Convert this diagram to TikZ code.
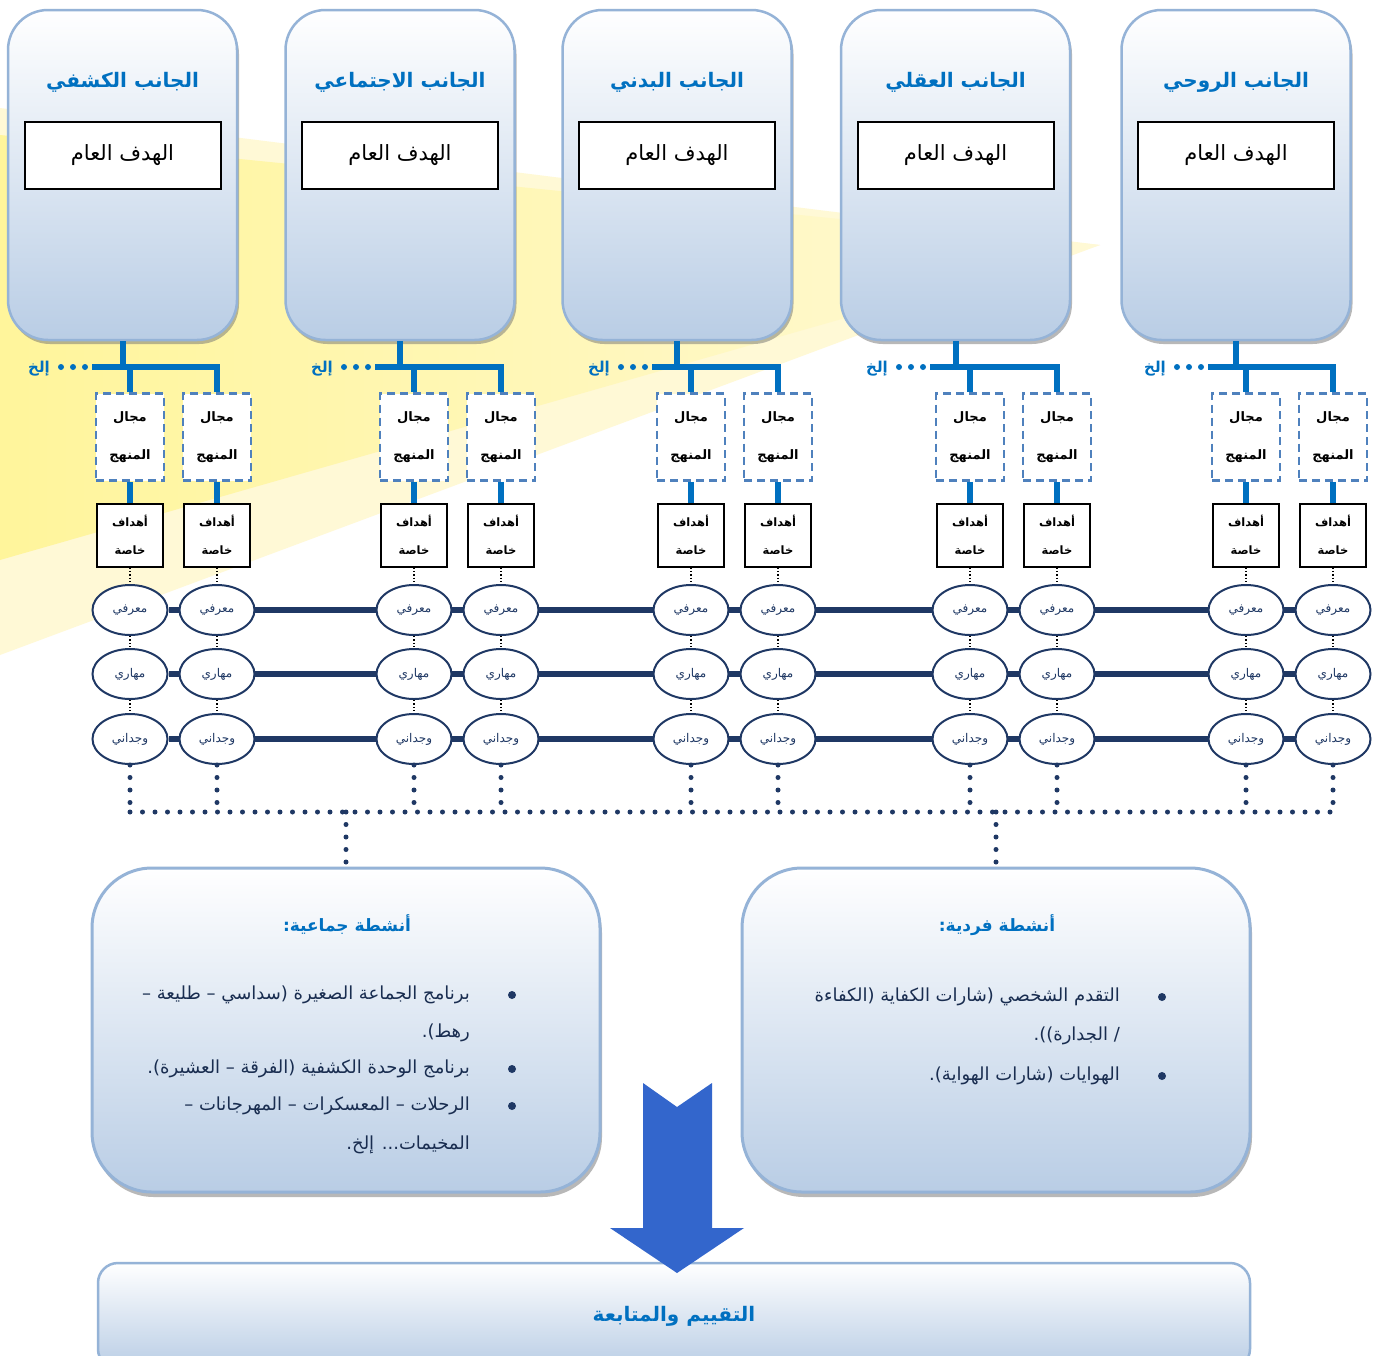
\documentclass[tikz,border=0pt]{standalone}
\usepackage{fontspec}
\usetikzlibrary{shapes.geometric,shadows,backgrounds}
\TeXXeTstate=1
\newfontfamily\arabicfont[Script=Arabic]{DejaVu Sans}
\newcommand\rl[1]{\beginR #1\endR}

\definecolor{aspectblue}{RGB}{0,112,192}
\definecolor{boxedge}{RGB}{149,179,215}
\definecolor{boxfill}{RGB}{185,205,229}
\definecolor{dashblue}{RGB}{79,129,189}
\definecolor{navy}{RGB}{31,56,100}
\definecolor{arrowblue}{RGB}{51,102,204}
\definecolor{beam}{RGB}{255,245,155}
\definecolor{beampale}{RGB}{255,249,214}

\tikzset{
  aspect/.style={draw=boxedge, line width=2.5pt, rounded corners=40pt, top color=white, bottom color=boxfill,
    minimum width=229pt, minimum height=330pt, drop shadow={shadow xshift=2pt, shadow yshift=-4pt, fill=black!55, opacity=.5}},
  aspecttitle/.style={text=aspectblue, font=\arabicfont\bfseries\fontsize{20}{24}\selectfont},
  aimbox/.style={draw=black, line width=2pt, fill=white, minimum width=196pt, minimum height=67pt,
    font=\arabicfont\fontsize{21}{25}\selectfont},
  fieldbox/.style={draw=dashblue, dash pattern=on 8pt off 5pt, line width=2.5pt, fill=white, minimum width=68pt,
    minimum height=87pt, inner sep=0pt, align=center, font=\arabicfont\bfseries\fontsize{13}{38}\selectfont},
  goalbox/.style={draw=black, line width=2pt, fill=white, minimum width=66pt, minimum height=63pt, inner sep=0pt,
    align=center, font=\arabicfont\bfseries\fontsize{11.5}{28}\selectfont},
  trait/.style={ellipse, draw=navy, line width=2pt, fill=white, minimum width=75pt, minimum height=50pt,
    inner sep=0pt, text=navy, font=\arabicfont\fontsize{12}{14}\selectfont},
  branch/.style={draw=aspectblue, line width=6pt},
  etcdots/.style={draw=aspectblue, line width=6pt, line cap=round, dash pattern=on 0pt off 12pt},
  etclabel/.style={text=aspectblue, inner sep=0pt, font=\arabicfont\bfseries\fontsize{15}{18}\selectfont},
  finedots/.style={draw=black, line width=1.2pt, dash pattern=on 1.2pt off 2.2pt},
  traitline/.style={draw=navy, line width=6pt},
  bigdots/.style={draw=navy, line width=5pt, line cap=round, dash pattern=on 0pt off 12.5pt},
  activity/.style={draw=boxedge, line width=3pt, rounded corners=60pt, top color=white, bottom color=boxfill,
    minimum width=508pt, minimum height=324pt, drop shadow={shadow xshift=2pt, shadow yshift=-5pt, fill=black!55, opacity=.5}},
  acttitle/.style={text=aspectblue, font=\arabicfont\bfseries\fontsize{17}{20}\selectfont},
  actline/.style={anchor=east, inner sep=0pt, text=navy!80!black, font=\arabicfont\fontsize{18}{21}\selectfont},
  bullet/.style={circle, fill=navy, minimum size=8pt, inner sep=0pt},
  evalbox/.style={draw=boxedge, line width=2.5pt, rounded corners=20pt, top color=white, bottom color=boxfill,
    minimum width=1152pt, minimum height=106pt, text=aspectblue, font=\arabicfont\bfseries\fontsize{20}{24}\selectfont}
}

% one curriculum column: field, goals, the three domains
\newcommand\fieldcol[2]{%
  \node[fieldbox] (dom#1) at (#2,437) {\rl{مجال}\\\rl{المنهج}};
  \node[goalbox] (goal#1) at (#2,535) {\rl{أهداف}\\\rl{خاصة}};
  \node[trait] (kno#1) at (#2,610) {\rl{معرفي}};
  \node[trait] (ski#1) at (#2,674) {\rl{مهاري}};
  \node[trait] (aff#1) at (#2,739) {\rl{وجداني}};
  \coordinate (low#1) at (#2,812);
  \draw[branch] (dom#1) -- (goal#1);
  \draw[finedots] (goal#1) -- (kno#1);
  \draw[finedots] (kno#1) -- (ski#1);
  \draw[finedots] (ski#1) -- (aff#1);
  \draw[bigdots] (aff#1) -- (low#1);
}

% one aspect box and its branch
\newcommand\aspect[6]{%
  \node[aspect] (asp#1) at (#2,175) {};
  \node[aspecttitle] (title#1) at (#2,82) {#3};
  \node[aimbox] (aim#1) at (#2,155) {\rl{الهدف العام}};
  \coordinate (bar#1) at (#4,367);
  \node[etclabel, anchor=east] (etc#1) at ([xshift=-42pt,yshift=-2pt]bar#1) {\rl{إلخ}};
  \draw[branch] (asp#1.south) -- (asp#1.south |- bar#1);
  \draw[branch] (bar#1) -| (dom#6.north);
  \draw[branch] (dom#5.north |- bar#1) -- (dom#5.north);
  \draw[etcdots] ([xshift=-7pt]bar#1) -- ([xshift=-32pt]bar#1);
}

\begin{document}
\begin{tikzpicture}[x=1pt, y=-1pt]
\useasboundingbox (0,0) rectangle (1376,1355);
\begin{pgfonlayer}{background}
  \fill[white] (0,0) rectangle (1376,1355);
  \fill[beampale] (0,108) -- (1100,245) -- (0,655) -- cycle;
  \shade[left color=beam, right color=beampale] (0,135) -- (1100,245) -- (0,560) -- cycle;
\end{pgfonlayer}

\fieldcol{1}{130}
\fieldcol{2}{217}
\fieldcol{3}{414}
\fieldcol{4}{501}
\fieldcol{5}{691}
\fieldcol{6}{778}
\fieldcol{7}{970}
\fieldcol{8}{1057}
\fieldcol{9}{1246}
\fieldcol{10}{1333}

\aspect{1}{122.5}{\rl{الجانب الكشفي}}{92}{1}{2}
\aspect{2}{400}{\rl{الجانب الاجتماعي}}{375}{3}{4}
\aspect{3}{677}{\rl{الجانب البدني}}{652}{5}{6}
\aspect{4}{955.5}{\rl{الجانب العقلي}}{930}{7}{8}
\aspect{5}{1236}{\rl{الجانب الروحي}}{1208}{9}{10}

\begin{pgfonlayer}{background}
  \draw[traitline] (kno1) -- (kno10);
  \draw[traitline] (ski1) -- (ski10);
  \draw[traitline] (aff1) -- (aff10);
\end{pgfonlayer}

% activities
\node[activity] (group) at (346,1030) {};
\node[activity] (self) at (996,1030) {};
\node[acttitle] (grouptitle) at (347,925) {\rl{أنشطة جماعية:}};
\node[acttitle] (selftitle) at (997,925) {\rl{أنشطة فردية:}};

\coordinate (grouptap) at (group.north |- low1);
\coordinate (selftap) at (self.north |- low1);
\draw[bigdots] (low1) -- (low10);
\draw[bigdots] (grouptap) -- (group.north);
\draw[bigdots] (selftap) -- (self.north);

\node[bullet] (gb1) at (512,995) {};
\node[actline] (gl1) at (470,995) {\rl{برنامج الجماعة الصغيرة (سداسي – طليعة –}};
\node[actline] (gl2) at (470,1033) {\rl{رهط).}};
\node[bullet] (gb2) at (512,1069) {};
\node[actline] (gl3) at (470,1069) {\rl{برنامج الوحدة الكشفية (الفرقة – العشيرة).}};
\node[bullet] (gb3) at (512,1106) {};
\node[actline] (gl4) at (470,1106) {\rl{الرحلات – المعسكرات – المهرجانات –}};
\node[actline] (gl5) at (470,1145) {\rl{المخيمات... إلخ.}};

\node[bullet] (sb1) at (1162,997) {};
\node[actline] (sl1) at (1120,997) {\rl{التقدم الشخصي (شارات الكفاية (الكفاءة}};
\node[actline] (sl2) at (1120,1036) {\rl{/ الجدارة)).}};
\node[bullet] (sb2) at (1162,1076) {};
\node[actline] (sl3) at (1120,1076) {\rl{الهوايات (شارات الهواية).}};

% evaluation
\node[evalbox] (eval) at (674,1316) {\rl{التقييم والمتابعة}};
\fill[arrowblue] (643,1083) -- (677,1107) -- (712,1083) -- (712,1228) -- (744,1228) -- (677,1273)
  -- (610,1228) -- (643,1228) -- cycle;

\end{tikzpicture}
\end{document}
